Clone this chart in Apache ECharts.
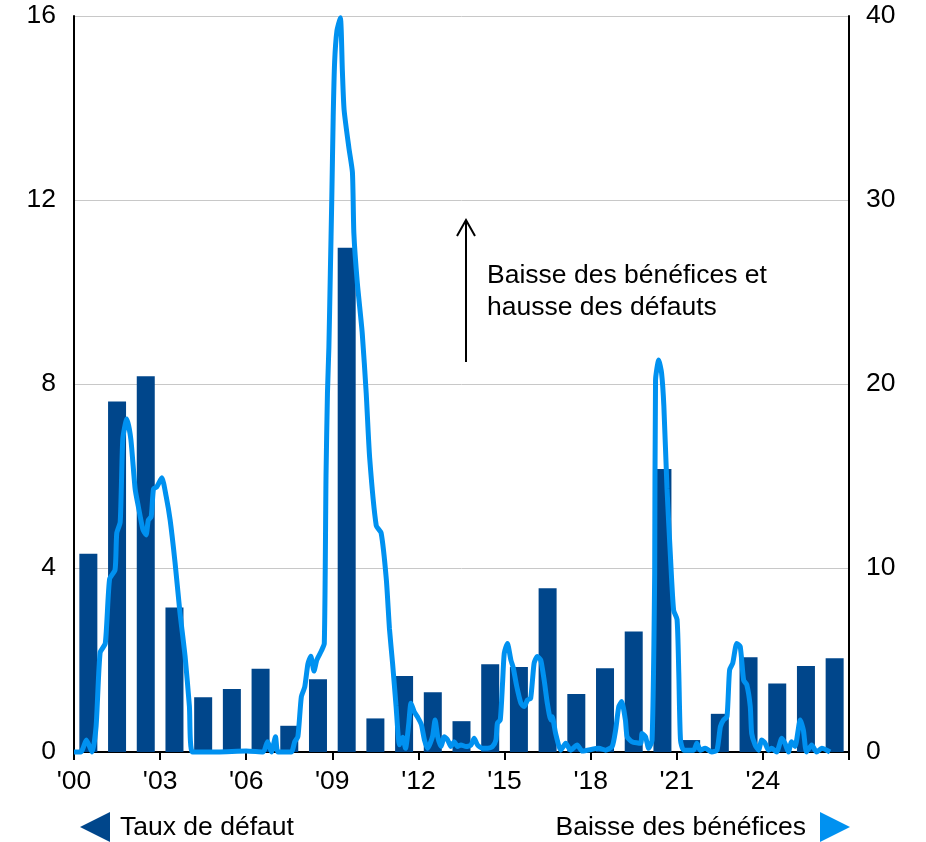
<!DOCTYPE html>
<html><head><meta charset="utf-8">
<script src="https://cdn.jsdelivr.net/npm/echarts@6/dist/echarts.min.js"></script>
<style>html,body{margin:0;padding:0;background:#fff}#c{width:926px;height:842px}</style>
</head><body><div id="c"></div>
<script>
const years = [2000,2001,2002,2003,2004,2005,2006,2007,2008,2009,2010,2011,2012,2013,2014,2015,2016,2017,2018,2019,2020,2021,2022,2023,2024,2025,2026];
const defaultRate = [4.31,7.62,8.17,3.14,1.19,1.37,1.81,0.57,1.58,10.96,0.73,1.65,1.30,0.67,1.91,1.85,3.56,1.26,1.82,2.62,6.15,0.26,0.83,2.06,1.49,1.87,2.04];
const earnDates = [2000.00,2000.24,2000.43,2000.63,2000.77,2000.91,2001.09,2001.24,2001.43,2001.49,2001.61,2001.70,2001.84,2001.98,2002.13,2002.24,2002.40,2002.51,2002.59,2002.69,2002.77,2002.88,2003.06,2003.21,2003.35,2003.52,2003.69,2003.87,2004.02,2004.13,2005.00,2006.00,2006.59,2006.74,2006.88,2007.02,2007.11,2007.57,2007.69,2007.80,2007.92,2008.04,2008.15,2008.25,2008.36,2008.46,2008.62,2008.72,2008.78,2008.83,2008.88,2008.93,2008.98,2009.03,2009.08,2009.16,2009.28,2009.35,2009.41,2009.58,2009.70,2009.75,2009.87,2010.04,2010.18,2010.30,2010.53,2010.70,2010.88,2010.99,2011.10,2011.22,2011.34,2011.45,2011.55,2011.66,2011.74,2011.85,2011.97,2012.10,2012.21,2012.32,2012.49,2012.58,2012.67,2012.79,2012.90,2013.02,2013.13,2013.25,2013.36,2013.48,2013.66,2013.83,2013.94,2014.06,2014.23,2014.41,2014.58,2014.70,2014.75,2014.85,2014.93,2014.99,2015.10,2015.22,2015.30,2015.42,2015.57,2015.68,2015.80,2015.91,2016.03,2016.14,2016.26,2016.38,2016.49,2016.61,2016.66,2016.78,2016.96,2017.13,2017.30,2017.53,2017.71,2018.29,2018.52,2018.75,2018.87,2018.98,2019.08,2019.21,2019.27,2019.44,2019.74,2019.79,2019.91,2020.02,2020.14,2020.23,2020.26,2020.37,2020.47,2020.55,2020.66,2020.78,2020.89,2021.01,2021.07,2021.13,2021.24,2021.59,2021.70,2021.82,2021.99,2022.22,2022.40,2022.52,2022.63,2022.75,2022.84,2022.95,2023.09,2023.21,2023.33,2023.44,2023.56,2023.61,2023.73,2023.85,2023.96,2024.08,2024.19,2024.31,2024.48,2024.66,2024.77,2024.89,2025.00,2025.12,2025.30,2025.41,2025.52,2025.70,2025.87,2026.05,2026.34];
const earnDecline = [0,0,0.65,0,1.4,5.4,5.9,9.4,9.9,11.9,12.5,17.0,18.1,17.0,14.3,13.35,12.1,11.8,12.6,12.8,14.3,14.4,14.9,13.9,12.6,10.3,7.6,5.2,2.5,0,0,0.05,0,0.56,0,0.83,0,0,0.56,0.83,3.0,3.55,4.8,5.2,4.4,5.0,5.5,5.9,15,19.5,22,26,30,34.5,37.5,39.2,39.9,37,34.9,32.8,31.5,28.2,25.5,22.8,19.5,16,12.3,11.9,9.4,6.7,4.8,2.5,0.4,0.8,0.2,1.5,2.65,2.2,1.9,1.5,0.65,0.2,0.83,1.74,0.83,0.3,0.83,0.65,0.3,0.56,0.3,0.38,0.3,0.38,0.75,0.38,0.2,0.2,0.3,0.65,1.56,1.74,3.74,5.37,5.9,5.0,4.6,3.6,2.65,2.47,2.83,2.92,4.83,5.19,5.0,3.9,2.65,1.74,1.92,1.0,0.1,0.47,0.1,0.38,0.05,0.2,0.1,0.3,1.2,2.47,2.74,1.74,0.83,0.56,0.47,1.0,0.83,0.2,0.65,9.7,20.2,21.3,20.6,18.8,14.3,10.6,7.7,7.2,4.3,0.65,0.1,0.1,0.47,0.1,0.2,0,0.1,1.38,1.74,1.92,4.46,4.83,5.9,5.73,3.9,3.65,2.47,1.0,0.38,0.1,0.65,0.47,0.1,0.2,0,0.75,0.47,0,0.56,0.3,1.74,1.2,0,0.38,0,0.2,0];
const leftTicks = {min:0, max:16, step:4};
const rightTicks = {min:0, max:40, step:10};
const xTicks = {min:2000, max:2027, step:3};

const FONT = 'Liberation Sans, Arial, sans-serif';
const FS = 26.5;
const BAR = '#00468B';
const LINE = '#0091F0';
const chart = echarts.init(document.getElementById('c'), null, {renderer:'canvas'});
chart.setOption({
  animation:false,
  backgroundColor:'#fff',
  grid:{left:74, right:77, top:16, bottom:90, containLabel:false},
  xAxis:{type:'value', min:xTicks.min, max:xTicks.max, interval:xTicks.step,
    axisLine:{show:true, onZero:false, lineStyle:{color:'#000', width:2}},
    axisTick:{show:true, length:8, lineStyle:{color:'#000', width:2}},
    axisLabel:{color:'#000', fontSize:FS, fontFamily:FONT, margin:16,
      formatter:v=> v===xTicks.max ? '' : "'" + String(v).slice(2)},
    splitLine:{show:false}},
  yAxis:[
    {type:'value', min:leftTicks.min, max:leftTicks.max, interval:leftTicks.step, position:'left',
     axisLine:{show:true, lineStyle:{color:'#000', width:2}}, axisTick:{show:false},
     axisLabel:{color:'#000', fontSize:FS, fontFamily:FONT, margin:18},
     splitLine:{show:true, lineStyle:{color:'#c8c8c8', width:1}}},
    {type:'value', min:rightTicks.min, max:rightTicks.max, interval:rightTicks.step, position:'right',
     axisLine:{show:true, lineStyle:{color:'#000', width:2}}, axisTick:{show:false},
     axisLabel:{color:'#000', fontSize:FS, fontFamily:FONT, margin:17},
     splitLine:{show:false}}
  ],
  series:[
    {type:'bar', name:'Taux de défaut', xAxisIndex:0, yAxisIndex:0, barWidth:18,
     itemStyle:{color:BAR}, data:years.map((y,i)=>[y+0.5, defaultRate[i]])},
    {type:'line', name:'Baisse des bénéfices', yAxisIndex:1, showSymbol:false, clip:false, smooth:0.2,
     lineStyle:{color:LINE, width:5}, data:earnDates.map((d,i)=>[d, earnDecline[i]])}
  ],
  graphic:[
    {type:'line', shape:{x1:466, y1:362, x2:466, y2:220}, style:{stroke:'#000', lineWidth:2}},
    {type:'polyline', shape:{points:[[457,236],[466,220],[475,236]]}, style:{stroke:'#000', lineWidth:2, fill:null}},
    {type:'text', x:487, y:260, style:{text:'Baisse des bénéfices et\nhausse des défauts', font:FS+'px '+FONT, fill:'#000', lineHeight:32}},
    {type:'polygon', shape:{points:[[80,827],[110,812],[110,842]]}, style:{fill:BAR}},
    {type:'text', x:120, y:828, style:{text:'Taux de défaut', font:FS+'px '+FONT, fill:'#000', verticalAlign:'middle', align:'left'}},
    {type:'text', x:806, y:828, style:{text:'Baisse des bénéfices', font:FS+'px '+FONT, fill:'#000', verticalAlign:'middle', align:'right'}},
    {type:'polygon', shape:{points:[[820,812],[850,827],[820,842]]}, style:{fill:LINE}}
  ]
});
</script></body></html>
